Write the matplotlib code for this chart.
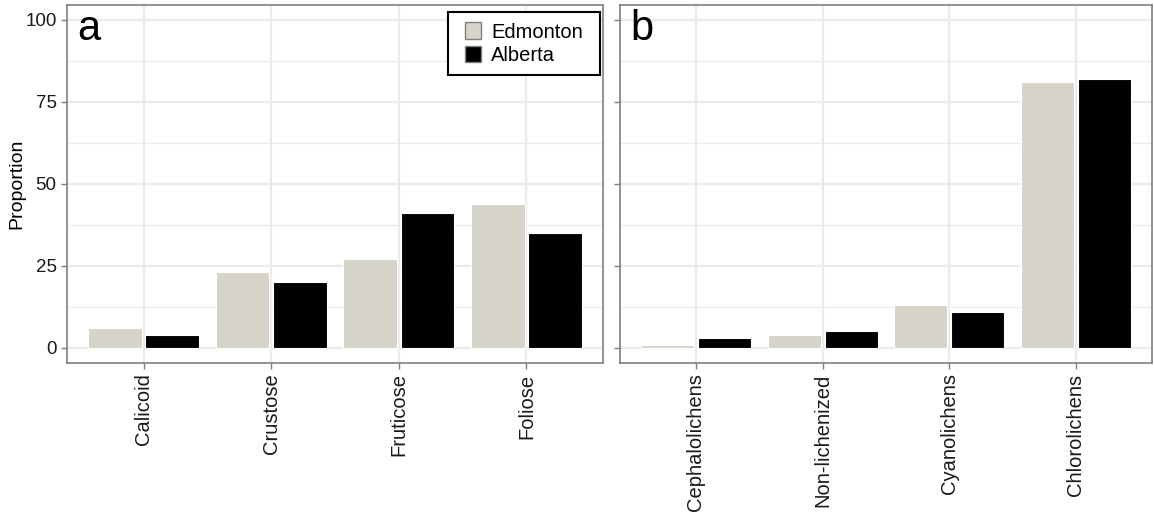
import matplotlib
matplotlib.use("Agg")
import matplotlib.pyplot as plt
import numpy as np
from matplotlib.patches import Patch, Rectangle

plt.rcParams['font.family'] = ['Liberation Sans', 'DejaVu Sans']

series = ["Edmonton", "Alberta"]
colors = ["#D6D4C8", "#000000"]

cats_a = ["Calicoid", "Crustose", "Fruticose", "Foliose"]
edm_a = [6, 23, 27, 44]
alb_a = [4, 20, 41, 35]

cats_b = ["Cephalolichens", "Non-lichenized", "Cyanolichens", "Chlorolichens"]
edm_b = [1, 4, 13, 81]
alb_b = [3, 5, 11, 82]

yticks = [0, 25, 50, 75, 100]

fig = plt.figure(figsize=(11.54, 5.14), dpi=100)
ax1 = fig.add_axes([67/1154, 1-363/514, (603-67)/1154, 358/514])
ax2 = fig.add_axes([620/1154, 1-363/514, (1152-620)/1154, 358/514])

border = "#7f7f7f"
grid = "#EBEBEB"

def draw(ax, cats, edm, alb, letter, show_y):
    x = np.arange(1, len(cats)+1)
    ax.set_axisbelow(True)
    for yv in np.arange(-12.5, 113, 12.5):
        ax.axhline(yv, color=grid, lw=1.6 if yv % 25 == 0 else 0.9, zorder=0)
    for xv in x:
        ax.axvline(xv, color=grid, lw=1.6, zorder=0)
    ax.bar(x-0.225, edm, width=0.42, color=colors[0], edgecolor="white", lw=0.8, zorder=2)
    ax.bar(x+0.225, alb, width=0.42, color=colors[1], edgecolor="white", lw=0.8, zorder=2)
    ax.set_xlim(0.4, len(cats)+0.6)
    ax.set_ylim(-4.6, 104.5)
    ax.set_xticks(x)
    ax.set_xticklabels(cats, rotation=90, fontsize=14.5, color="#1a1a1a")
    ax.set_yticks(yticks)
    if show_y:
        ax.set_yticklabels([str(v) for v in yticks], fontsize=13.5, color="#1a1a1a")
    else:
        ax.set_yticklabels([])
    ax.tick_params(color=border, length=4, width=1)
    for s in ax.spines.values():
        s.set_color(border)
        s.set_linewidth(1.2)
    ax.text(0.02, 0.99, letter, transform=ax.transAxes, fontsize=30, va="top", ha="left")

draw(ax1, cats_a, edm_a, alb_a, "a", True)
draw(ax2, cats_b, edm_b, alb_b, "b", False)
ax1.set_ylabel("Proportion", fontsize=14, labelpad=0)

handles = [Patch(facecolor=colors[0], edgecolor="#808080", label=series[0]),
           Patch(facecolor=colors[1], edgecolor="#808080", label=series[1])]
leg = ax1.legend(handles=handles, loc="upper right", fontsize=14.5, frameon=False,
                 handlelength=0.8, handleheight=0.9,
                 handletextpad=0.5, borderpad=0.5, labelspacing=0.2, borderaxespad=0,
                 bbox_to_anchor=(0.981, 0.98))
leg.set_zorder(5)

# legend frame with wider horizontal padding (as in the reference)
fig.canvas.draw()
bb = leg.get_window_extent()
padx = 7
inv = fig.transFigure.inverted()
(x0, y0) = inv.transform((bb.x0 - padx, bb.y0))
(x1, y1) = inv.transform((bb.x1 + padx, bb.y1))
ax1.add_patch(Rectangle((x0, y0), x1 - x0, y1 - y0, transform=fig.transFigure,
                        facecolor="white", edgecolor="black", lw=1.5, zorder=4,
                        clip_on=False))

fig.savefig("out.png", dpi=100)
